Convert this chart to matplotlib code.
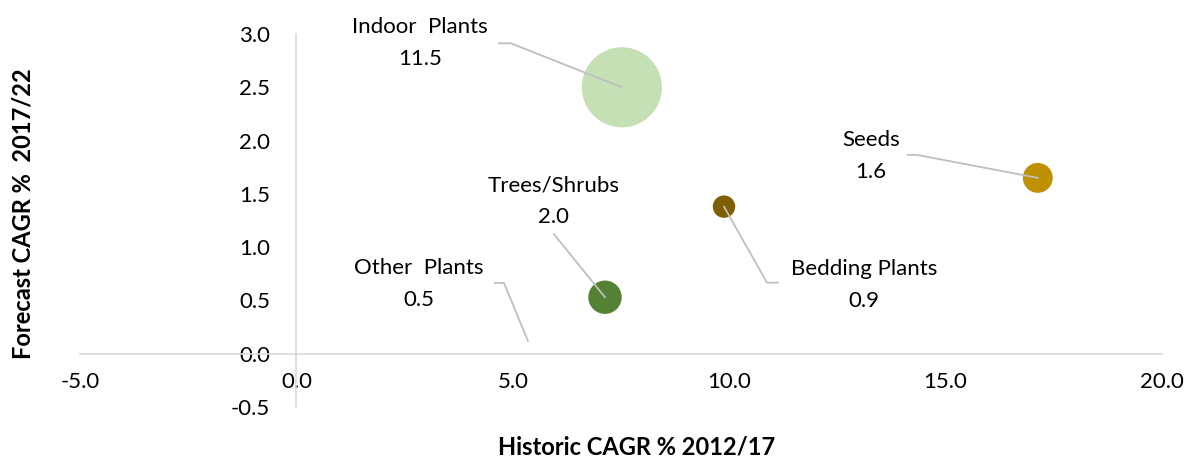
import matplotlib.pyplot as plt

plt.rcParams['font.family'] = ['Lato', 'DejaVu Sans']

# segment data
segments = ['Indoor  Plants', 'Seeds', 'Bedding Plants', 'Trees/Shrubs', 'Other  Plants']
historic_cagr = [7.52, 17.13, 9.88, 7.13, 5.35]
forecast_cagr = [2.50, 1.65, 1.38, 0.53, 0.12]
market_size = [11.5, 1.6, 0.9, 2.0, 0.5]
colors = ['#c5e0b4', '#bf9000', '#7f6000', '#548235', 'none']

# label placement, pixel offsets from the bubble centre
label_offsets = [(-202, 44), (-167, 22), (140, -78), (-51, 96), (-109, 57)]
# leader line paths (pixel offsets from the bubble centre, ending at the bubble)
leaders = [
    [(-123, 44), (-111, 44), (0, 0)],
    [(-130, 23), (-121, 23), (0, 0)],
    [(54, -76), (43, -76), (0, 0)],
    [(-51, 63), (0, 0)],
    [(-33, 58), (-24, 58), (0, 0)],
]

fig = plt.figure(figsize=(11.88, 4.62), dpi=100)
ax = fig.add_axes([80 / 1188, 1 - 407 / 462, 1082 / 1188, 373 / 462])
ax.set_xlim(-5, 20)
ax.set_ylim(-0.5, 3.0)

grey = '#d9d9d9'
for side in ['top', 'right']:
    ax.spines[side].set_visible(False)
ax.spines['bottom'].set_position(('data', 0))
ax.spines['left'].set_position(('data', 0))
ax.spines['bottom'].set_color(grey)
ax.spines['left'].set_color(grey)
ax.spines['bottom'].set_linewidth(1.2)
ax.spines['left'].set_linewidth(1.2)

ax.set_xticks([-5, 0, 5, 10, 15, 20])
ax.set_yticks([-0.5, 0, 0.5, 1.0, 1.5, 2.0, 2.5, 3.0])
ax.xaxis.set_major_formatter(lambda v, p: f'{v:.1f}')
ax.yaxis.set_major_formatter(lambda v, p: f'{v:.1f}')
ax.tick_params(axis='x', length=0, pad=13, labelsize=16, labelcolor='black')
ax.tick_params(axis='y', length=0, pad=19, labelsize=16, labelcolor='black')

ax.scatter(historic_cagr, forecast_cagr, s=[v * 289 for v in market_size],
           c=colors, edgecolors='none', zorder=2)

fig.canvas.draw()
for x, y, name, size, off, path in zip(historic_cagr, forecast_cagr, segments,
                                       market_size, label_offsets, leaders):
    cx, cy = ax.transData.transform((x, y))
    xs = [cx + dx for dx, dy in path]
    ys = [cy + dy for dx, dy in path]
    line = plt.Line2D(xs, ys, color='#bfbfbf', lw=1.3, transform=None, zorder=3)
    fig.add_artist(line)
    ax.annotate(f'{name}\n{size:.1f}', xy=(x, y), xytext=off,
                textcoords='offset pixels', ha='center', va='center',
                fontsize=16, linespacing=1.75, zorder=4)

fig.text(637 / 1188, 1 - 447 / 462, 'Historic CAGR % 2012/17', ha='center',
         va='center', fontsize=17, fontweight='bold')
fig.text(23 / 1188, 1 - 214 / 462, 'Forecast CAGR %  2017/22', ha='center',
         va='center', rotation=90, fontsize=17, fontweight='bold')

fig.savefig('out.png', dpi=100)
